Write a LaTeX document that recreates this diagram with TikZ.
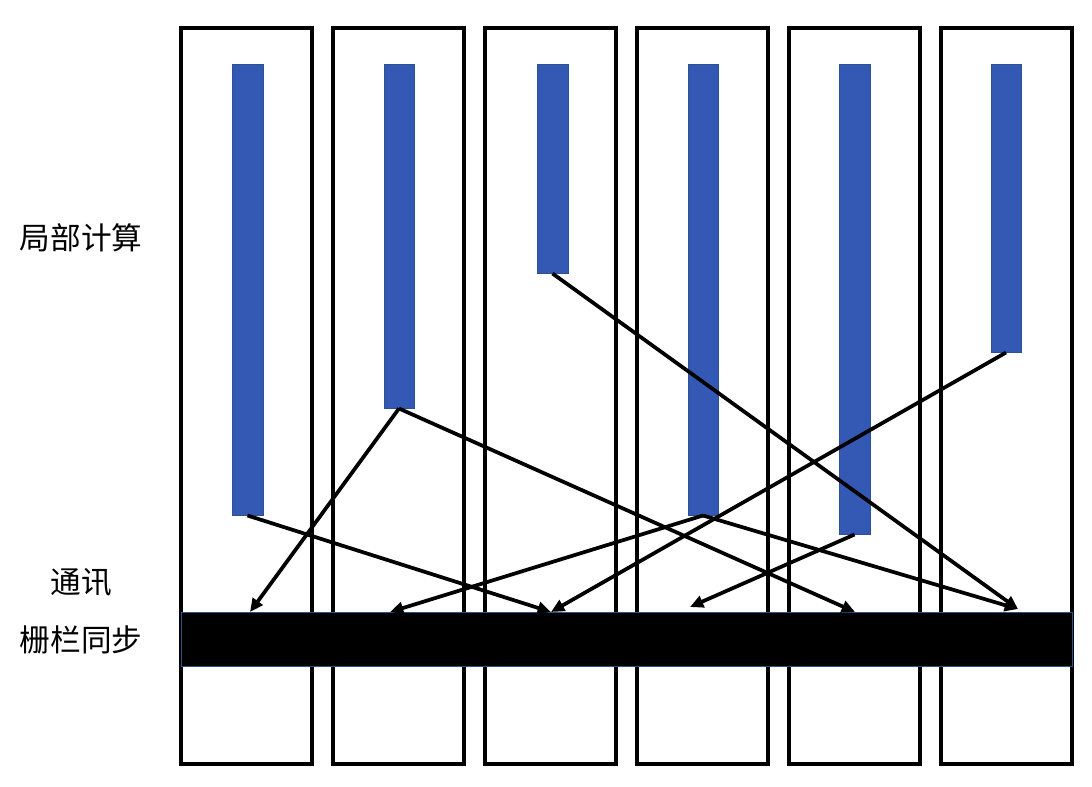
\documentclass[tikz,border=0pt]{standalone}
\usepackage{fontspec}
\newfontfamily\cjk{Noto Sans CJK SC}
\usetikzlibrary{arrows.meta,fit}

\definecolor{barblue}{RGB}{52,89,180}
\definecolor{baredge}{RGB}{47,82,143}

\tikzset{
  colbox/.style={draw, line width=2.9pt, inner sep=0pt},
  workbar/.style={fill=barblue, draw=baredge, line width=0.75pt, inner sep=0pt},
  syncbar/.style={fill=black, draw=baredge, line width=0.75pt, inner sep=0pt},
  flow/.style={line width=2.8pt, -{Triangle[length=10pt,width=9pt]}},
  lbl/.style={font=\cjk\fontsize{23}{26}\selectfont},
}

\begin{document}
\begin{tikzpicture}[x=0.75pt,y=0.75pt,yscale=-1,xscale=1]
\useasboundingbox (0,0) rectangle (1092,786);

%Shape: Rectangle -- columns
\node [colbox, fit={(181,28) (312,764)}] (c1) {};
\node [colbox, fit={(333,28) (464,764)}] (c2) {};
\node [colbox, fit={(485,28) (616,764)}] (c3) {};
\node [colbox, fit={(637,28) (768,764)}] (c4) {};
\node [colbox, fit={(789,28) (920,764)}] (c5) {};
\node [colbox, fit={(941,28) (1072,764)}] (c6) {};

%Shape: Rectangle -- work bars
\node [workbar, fit={(232,64) (263,515)}] (w1) {};
\node [workbar, fit={(384,64) (414,408)}] (w2) {};
\node [workbar, fit={(537,64) (568,273)}] (w3) {};
\node [workbar, fit={(688,64) (718,515)}] (w4) {};
\node [workbar, fit={(839,64) (870,534)}] (w5) {};
\node [workbar, fit={(991,64) (1021,352)}] (w6) {};

%Shape: Rectangle -- barrier
\node [syncbar, fit={(181,612) (1072,666)}] (sync) {};

% arrow targets on the barrier
\coordinate (t1) at (250,612);
\coordinate (t2) at (390,612);
\coordinate (t3) at (551,612);
\coordinate (t4) at (690,607);
\coordinate (t5) at (855,612);
\coordinate (t6) at (1018,609);

%Straight Lines -- messages
\draw [flow] (w1.south) -- (t3);
\draw [flow] (w2.south) -- (t1);
\draw [flow] (w2.south) -- (t5);
\draw [flow] (w3.south) -- (t6);
\draw [flow] (w4.south) -- (t2);
\draw [flow] (w4.south) -- (t6);
\draw [flow] (w5.south) -- (t4);
\draw [flow] (w6.south) -- (t3);

% Text Node
\node [lbl] (compute) at (81,238) {局部计算};
% Text Node
\node [lbl] (comm) at (81,582) {通讯};
% Text Node
\node [lbl] (barrier) at (81,640) {栅栏同步};

\end{tikzpicture}
\end{document}
